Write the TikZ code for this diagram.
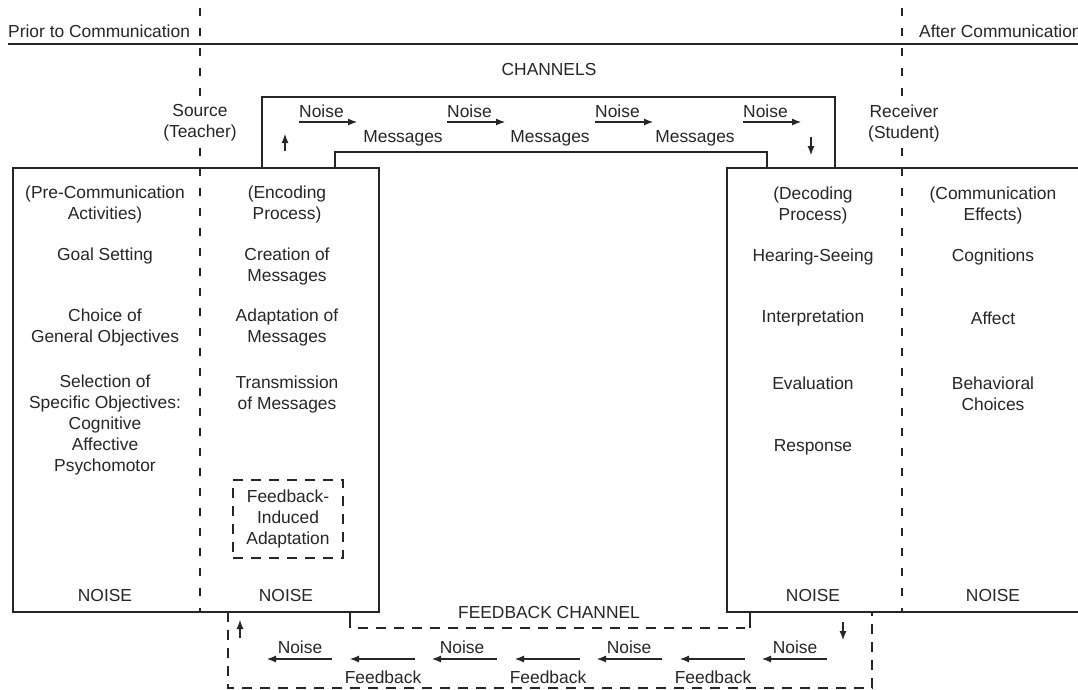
\documentclass[tikz,border=0pt]{standalone}
\usepackage{fontspec}
\setmainfont{Liberation Sans}
\usetikzlibrary{arrows.meta}
\definecolor{ink}{RGB}{38,38,38}
\begin{document}
\begin{tikzpicture}[x=1pt,y=-1pt,color=ink,
  txt/.style={font=\fontsize{17.4}{21}\selectfont,align=center,inner sep=0pt,text=ink},
  boxline/.style={line width=1.1pt,line join=miter},
  coldash/.style={line width=1.3pt,dash pattern=on 8pt off 12pt},
  fbdash/.style={line width=1.3pt,dash pattern=on 10pt off 8pt},
  arr/.style={-{Latex[length=9pt,width=7pt]},line width=1.1pt}]
\useasboundingbox (0,0) rectangle (1078,690);

% time line
\coordinate (tl0) at (8,44);
\coordinate (tl1) at (1078,44);
\draw[boxline] (tl0) -- (tl1);
\node[txt,anchor=west] (prior) at (8,31) {Prior to Communication};
\node[txt,anchor=west] (after) at (919,31) {After Communication};

% column dividers
\coordinate (d1t) at (200,8); \coordinate (d1b) at (200,612);
\coordinate (d2t) at (902,8); \coordinate (d2b) at (902,612);
\draw[coldash] (d1t) -- (d1b);
\draw[coldash] (d2t) -- (d2b);

% boxes
\draw[boxline] (13,168) rectangle (379,612);
\draw[boxline] (1085,168) -- (727,168) -- (727,612) -- (1085,612);

% channels
\draw[boxline] (262,168) -- (262,97) -- (835,97) -- (835,168);
\draw[boxline] (335,168) -- (335,152) -- (767,152) -- (767,168);
\node[txt] (channels) at (549,70) {CHANNELS};
\node[txt,fill=white,inner sep=3pt] (source) at (200,123) {Source\\(Teacher)};
\node[txt,fill=white,inner sep=3pt] (receiver) at (904,123) {Receiver\\(Student)};

% channel arrows
\foreach \i/\s in {1/299,2/447,3/595,4/743}{
  \coordinate (ca\i s) at (\s,122);
  \coordinate (ca\i e) at (\s+58,122);
  \draw[arr] (ca\i s) -- (ca\i e);
  \node[txt,anchor=west] (cn\i) at (\s,111) {Noise};
}
\foreach \i/\x in {1/403,2/550,3/695}{
  \node[txt] (cm\i) at (\x,138) {Messages};
}
\coordinate (upa) at (285,151); \coordinate (upb) at (285,134);
\draw[arr] (upa) -- (upb);
\coordinate (dna) at (811,137); \coordinate (dnb) at (811,155);
\draw[arr] (dna) -- (dnb);

% source box texts
\node[txt] (pre) at (105,204) {(Pre-Communication\\Activities)};
\node[txt] (goal) at (105,256) {Goal Setting};
\node[txt] (choice) at (105,327.5) {Choice of\\General Objectives};
\node[txt] (select) at (105,425) {Selection of\\Specific Objectives:\\Cognitive\\Affective\\Psychomotor};
\node[txt] (noise1) at (105,596) {NOISE};

\node[txt] (enc) at (287,204) {(Encoding\\Process)};
\node[txt] (creat) at (287,266.5) {Creation of\\Messages};
\node[txt] (adapt) at (287,327.5) {Adaptation of\\Messages};
\node[txt] (trans) at (287,394) {Transmission\\of Messages};
\node[txt,draw,fbdash,minimum width=110pt,minimum height=78pt] (fia) at (288,519) {Feedback-\\Induced\\Adaptation};
\node[txt] (noise2) at (286,596) {NOISE};

% receiver box texts
\node[txt] (dec) at (813,205) {(Decoding\\Process)};
\node[txt] (hear) at (813,257) {Hearing-Seeing};
\node[txt] (interp) at (813,318) {Interpretation};
\node[txt] (eval) at (813,383) {Evaluation};
\node[txt] (resp) at (813,447) {Response};
\node[txt] (noise3) at (813,596) {NOISE};

\node[txt] (eff) at (993,205) {(Communication\\Effects)};
\node[txt] (cog) at (993,257) {Cognitions};
\node[txt] (aff) at (993,318) {Affect};
\node[txt] (beh) at (993,394) {Behavioral\\Choices};
\node[txt] (noise4) at (993,596) {NOISE};

% feedback channel
\draw[fbdash] (228,612) -- (228,688) -- (872,688) -- (872,612);
\draw[boxline] (350,612) -- (350,628);
\draw[boxline] (750,612) -- (750,628);
\draw[fbdash] (358,628) -- (745,628);
\node[txt] (fbc) at (549,613) {FEEDBACK CHANNEL};

\foreach \i/\s in {1/267,2/350,3/432,4/515,5/597,6/680,7/762}{
  \coordinate (fa\i l) at (\s,659);
  \coordinate (fa\i r) at (\s+65,659);
  \draw[arr] (fa\i r) -- (fa\i l);
}
\foreach \i/\x in {1/300,2/462,3/629,4/795}{
  \node[txt] (fn\i) at (\x,647) {Noise};
}
\foreach \i/\x in {1/383,2/548,3/713}{
  \node[txt] (ff\i) at (\x,677) {Feedback};
}
\coordinate (fua) at (240,638); \coordinate (fub) at (240,620);
\draw[arr] (fua) -- (fub);
\coordinate (fda) at (843,622); \coordinate (fdb) at (843,640);
\draw[arr] (fda) -- (fdb);
\end{tikzpicture}
\end{document}
